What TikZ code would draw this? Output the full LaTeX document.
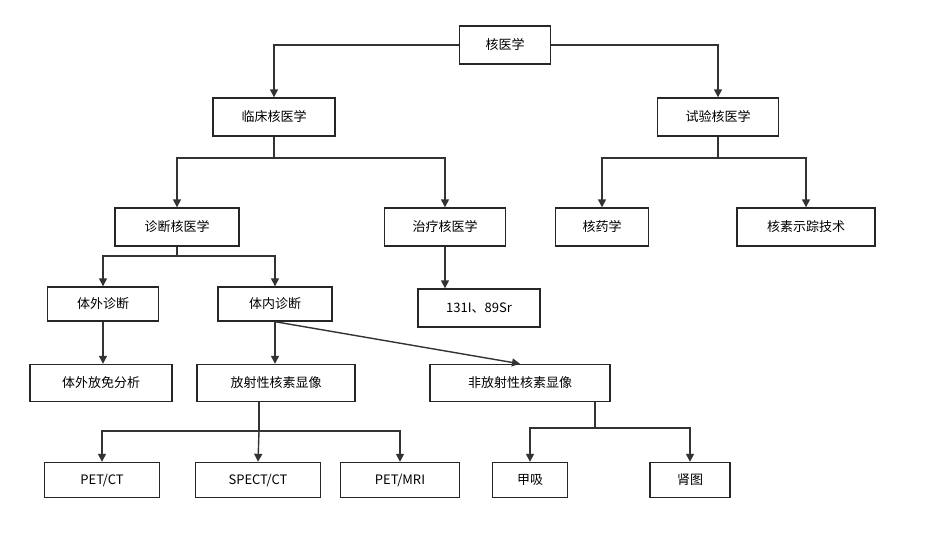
\documentclass[tikz,border=0pt]{standalone}
\usepackage{fontspec}
\setmainfont{Noto Sans CJK SC}
\usetikzlibrary{arrows.meta}
\begin{document}
\begin{tikzpicture}[x=1pt,y=-1pt,
  box/.style={draw=black!85,line width=1.4pt,minimum height=38pt,inner xsep=8pt,font=\fontsize{13}{15}\selectfont,anchor=center},
  ln/.style={draw=black!80,line width=1.4pt},
  ar/.style={ln,-{Triangle[length=8pt,width=8pt]}}]
\useasboundingbox (0,0) rectangle (931,546);
\node[box,minimum width=91pt] (root) at (505,45) {核医学};
\node[box,minimum width=122pt] (lc) at (274,117) {临床核医学};
\node[box,minimum width=121pt] (sy) at (718,117) {试验核医学};
\node[box,minimum width=124pt] (zd) at (177,227) {诊断核医学};
\node[box,minimum width=121pt] (zl) at (445,227) {治疗核医学};
\node[box,minimum width=93pt] (hy) at (602,227) {核药学};
\node[box,minimum width=138pt] (hs) at (806,227) {核素示踪技术};
\node[box,minimum width=111pt,minimum height=34pt] (tw) at (103,304) {体外诊断};
\node[box,minimum width=114pt,minimum height=34pt] (tn) at (275,304) {体内诊断};
\node[box,minimum width=122pt] (i131) at (479,308) {131I、89Sr};
\node[box,minimum width=142pt,minimum height=37pt] (fm) at (101,383) {体外放免分析};
\node[box,minimum width=158pt,minimum height=37pt] (fs) at (276,383) {放射性核素显像};
\node[box,minimum width=180pt,minimum height=37pt] (ff) at (520,383) {非放射性核素显像};
\node[box,minimum width=115pt,minimum height=35pt] (pc) at (102,480) {PET/CT};
\node[box,minimum width=125pt,minimum height=35pt] (sc) at (258,480) {SPECT/CT};
\node[box,minimum width=119pt,minimum height=35pt] (pm) at (400,480) {PET/MRI};
\node[box,minimum width=75pt,minimum height=35pt] (jx) at (530,480) {甲吸};
\node[box,minimum width=80pt,minimum height=35pt] (st) at (690,480) {肾图};

\draw[ar] (root.west) -| (lc.north);
\draw[ar] (root.east) -| (sy.north);
\coordinate (a1) at (274,158);
\draw[ln] (lc.south) -- (a1);
\draw[ar] (a1) -| (zd.north);
\draw[ar] (a1) -| (zl.north);
\coordinate (a2) at (718,158);
\draw[ln] (sy.south) -- (a2);
\draw[ar] (a2) -| (hy.north);
\draw[ar] (a2) -| (hs.north);
\coordinate (a3) at (177,256);
\draw[ln] (zd.south) -- (a3);
\draw[ar] (a3) -| (tw.north);
\draw[ar] (a3) -| (tn.north);
\draw[ar] (zl.south) -- (zl.south |- i131.north);
\draw[ar] (tw.south) -- (tw.south |- fm.north);
\draw[ar] (tn.south) -- (tn.south |- fs.north);
\draw[ar] (tn.south) -- (ff.north);
\coordinate (a4) at (259,431);
\draw[ln] (fs.south -| a4) -- (a4);
\draw[ar] (a4) -| (pc.north);
\draw[ar] (a4) -- (sc.north);
\draw[ar] (a4) -| (pm.north);
\coordinate (a5) at (595,428);
\draw[ln] (ff.south -| a5) -- (a5);
\draw[ar] (a5) -| (jx.north);
\draw[ar] (a5) -| (st.north);
\end{tikzpicture}
\end{document}
